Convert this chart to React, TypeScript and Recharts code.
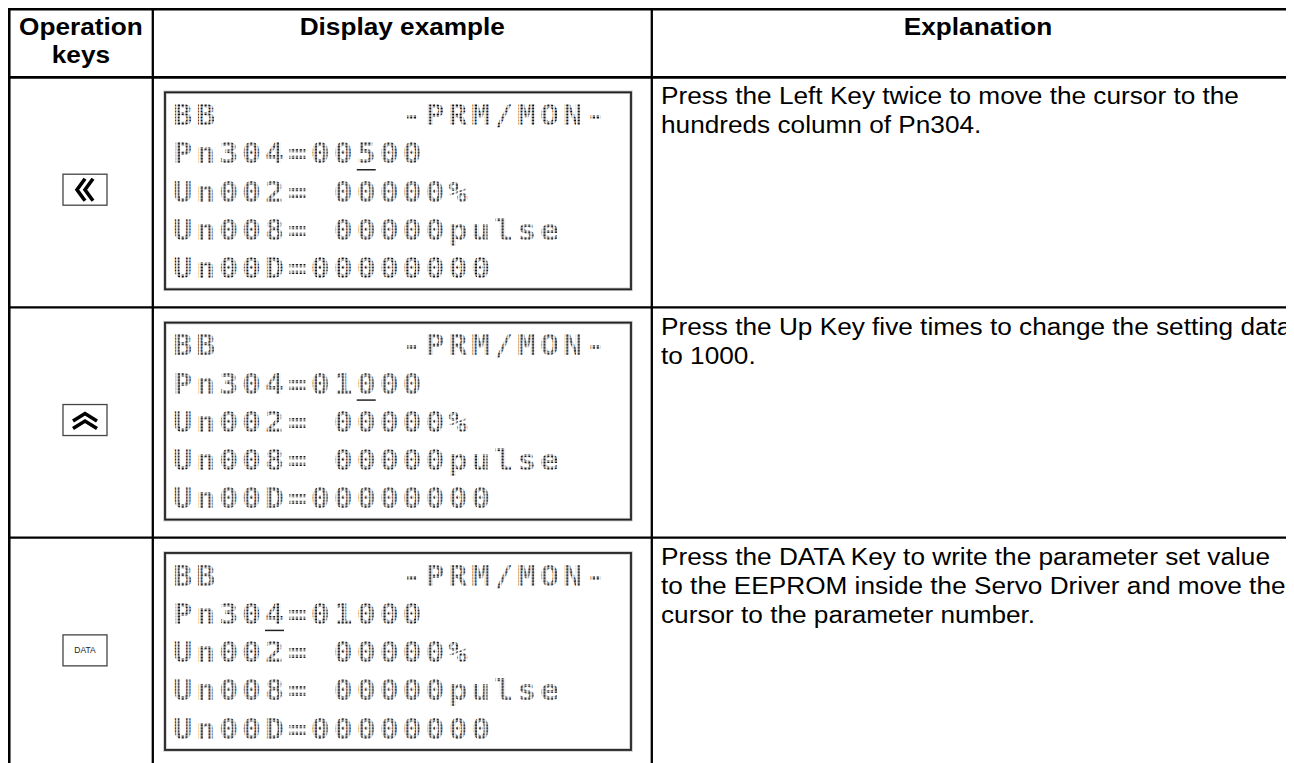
import React from "react";
import { BarChart, Bar, XAxis, YAxis } from "recharts";

// table content, one entry per step row
const stepIds = ["left", "up", "data"];
const headerLabels = [["Operation", "keys"], ["Display example"], ["Explanation"]];
const statusLines = ["BB        -PRM/MON-", "BB        -PRM/MON-", "BB        -PRM/MON-"];
const paramLines = ["Pn304=00500", "Pn304=01000", "Pn304=01000"];
const cursorPositions = [8, 8, 4];
const monitorLines = ["Un002= 00000%", "Un008= 00000pulse", "Un00D=00000000"];
const explanations = [
  ["Press the Left Key twice to move the cursor to the", "hundreds column of Pn304."],
  ["Press the Up Key five times to change the setting data", "to 1000."],
  [
    "Press the DATA Key to write the parameter set value",
    "to the EEPROM inside the Servo Driver and move the",
    "cursor to the parameter number.",
  ],
];

const TABLE_W = 1300;
const HEADER_H = 69.3;
const COL1 = 144.8;
const COL2 = 643.8;
const SX = 1.12; // the scan is a bit wider than tall
const PITCH = 22.93;
const LCD_FONT = 28;
const LCD_SPACING = PITCH / SX - 0.602 * LCD_FONT;
const SANS = "'Liberation Sans', Arial, sans-serif";

const rows = stepIds.map((id, i) => ({
  id,
  span: TABLE_W,
  lcd: [statusLines[i], paramLines[i], ...monitorLines],
  cursor: cursorPositions[i],
  text: explanations[i],
}));

const KeyIcon = ({ kind, cx, cy }: { kind: string; cx: number; cy: number }) => {
  const box = (
    <rect x={cx - 22} y={cy - 15.5} width={44} height={31} fill="#fff" stroke="#444" strokeWidth={1.3} />
  );
  if (kind === "left") {
    return (
      <g>
        {box}
        {[0, 8].map((dx) => (
          <polyline
            key={dx}
            points={`${cx + dx},${cy - 11} ${cx - 8 + dx},${cy} ${cx + dx},${cy + 11}`}
            fill="none"
            stroke="#000"
            strokeWidth={3.6}
          />
        ))}
      </g>
    );
  }
  if (kind === "up") {
    return (
      <g>
        {box}
        {[0, 7.5].map((dy) => (
          <polyline
            key={dy}
            points={`${cx - 12},${cy + 1 + dy} ${cx},${cy - 6.5 + dy} ${cx + 12},${cy + 1 + dy}`}
            fill="none"
            stroke="#000"
            strokeWidth={3.6}
          />
        ))}
      </g>
    );
  }
  return (
    <g>
      {box}
      <text x={cx} y={cy + 3} textAnchor="middle" fontFamily={SANS} fontSize={8.5} fill="#222">
        DATA
      </text>
    </g>
  );
};

const StretchText = ({ x, y, anchor = "start", bold = false, children }: any) => (
  <text
    transform={`translate(${x},${y}) scale(${SX},1)`}
    textAnchor={anchor}
    fontFamily={SANS}
    fontSize={23.4}
    fontWeight={bold ? 700 : 400}
    fill="#000"
  >
    {children}
  </text>
);

const StepRow = (props: any) => {
  const { y, height, index, payload } = props;
  const bottom = y + height;
  const lcdX = 165.3;
  const lcdBase = y + 47.7;
  const lineGap = 38.25;

  return (
    <g>
      {index === 0 && (
        <g>
          <defs>
            <pattern id="lcdDots" width={3.4} height={3} patternUnits="userSpaceOnUse">
              <rect x={0.6} y={0.5} width={2} height={2} fill="#111" />
            </pattern>
          </defs>
          <line x1={0} y1={1.2} x2={TABLE_W} y2={1.2} stroke="#000" strokeWidth={2.7} />
          <line x1={1.2} y1={0} x2={1.2} y2={y} stroke="#000" strokeWidth={2.7} />
          <line x1={COL1} y1={0} x2={COL1} y2={y} stroke="#000" strokeWidth={2.3} />
          <line x1={COL2} y1={0} x2={COL2} y2={y} stroke="#000" strokeWidth={2.3} />
          <line x1={0} y1={y} x2={TABLE_W} y2={y} stroke="#000" strokeWidth={2.7} />
          {headerLabels[0].map((t, k) => (
            <StretchText key={t} x={COL1 / 2 + 0.5} y={27 + k * 28} anchor="middle" bold>
              {t}
            </StretchText>
          ))}
          <StretchText x={(COL1 + COL2) / 2} y={27} anchor="middle" bold>
            {headerLabels[1][0]}
          </StretchText>
          <StretchText x={970} y={27} anchor="middle" bold>
            {headerLabels[2][0]}
          </StretchText>
        </g>
      )}

      {/* grid for this row */}
      <line x1={1.2} y1={y} x2={1.2} y2={bottom} stroke="#000" strokeWidth={2.7} />
      <line x1={COL1} y1={y} x2={COL1} y2={bottom} stroke="#000" strokeWidth={2.3} />
      <line x1={COL2} y1={y} x2={COL2} y2={bottom} stroke="#000" strokeWidth={2.3} />
      <line x1={0} y1={bottom} x2={TABLE_W} y2={bottom} stroke="#000" strokeWidth={2.2} />

      <KeyIcon kind={payload.id} cx={77} cy={y + height / 2 - 2.6} />

      {/* LCD display */}
      <rect x={157} y={y + 15} width={466} height={197} fill="#fff" stroke="#c8c8c8" strokeWidth={3.5} />
      <rect x={157} y={y + 15} width={466} height={197} fill="none" stroke="#222" strokeWidth={1.8} />
      {payload.lcd.map((line: string, k: number) => (
        <text
          key={k}
          transform={`translate(${lcdX},${lcdBase + k * lineGap}) scale(${SX},1)`}
          fontFamily="'DejaVu Sans Mono', monospace"
          fontSize={LCD_FONT}
          fontWeight={700}
          letterSpacing={LCD_SPACING}
          fill="url(#lcdDots)"
          style={{ whiteSpace: "pre" }}
        >
          {line}
        </text>
      ))}
      <line
        x1={lcdX + payload.cursor * PITCH}
        x2={lcdX + payload.cursor * PITCH + 19}
        y1={lcdBase + lineGap + 6.5}
        y2={lcdBase + lineGap + 6.5}
        stroke="#222"
        strokeWidth={1.5}
      />

      {payload.text.map((t: string, k: number) => (
        <StretchText key={k} x={653} y={y + 27 + k * 29}>
          {t}
        </StretchText>
      ))}
    </g>
  );
};

export default function App() {
  return (
    <div style={{ width: 1286, height: 755, overflow: "hidden", background: "#fff" }}>
      <BarChart
        width={TABLE_W}
        height={770}
        data={rows}
        layout="vertical"
        barCategoryGap={0}
        margin={{ top: HEADER_H, right: 0, bottom: 9.7, left: 0 }}
      >
        <XAxis type="number" domain={[0, TABLE_W]} hide />
        <YAxis type="category" dataKey="id" hide />
        <Bar dataKey="span" isAnimationActive={false} shape={StepRow} />
      </BarChart>
    </div>
  );
}
